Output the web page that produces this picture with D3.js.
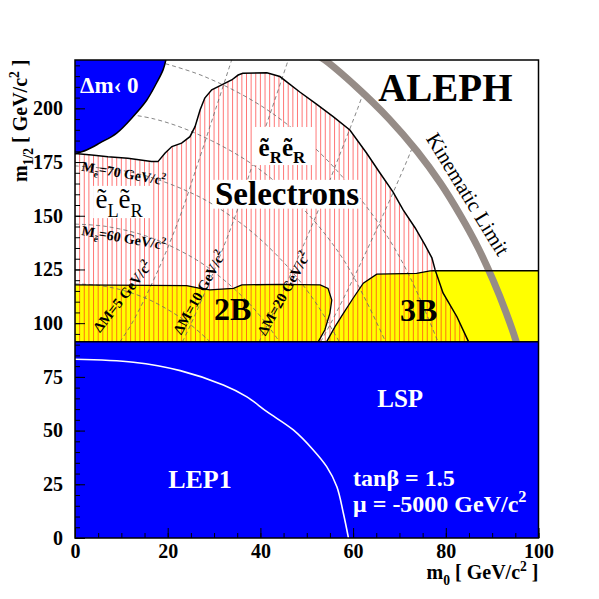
<!DOCTYPE html>
<html>
<head>
<meta charset="utf-8">
<script src="https://cdn.jsdelivr.net/npm/d3@7"></script>
<style>
body { margin: 0; background: #fff; }
text { font-family: "Liberation Serif", "Times New Roman", serif; }
</style>
</head>
<body>
<svg id="chart" width="599" height="599"></svg>
<script>
// axis ticks
var m0Ticks = [0, 20, 40, 60, 80, 100];
var m12Ticks = [0, 25, 50, 75, 100, 125, 150, 175, 200];

// excluded / region boundaries [m0, m1/2]
var lspTop = 91.4;
var dmNegBoundary = [[19.6,222.5],[19.0,217.9],[17.6,211.8],[15.5,203.9],[12.5,196.1],[9.0,188.5],[5.4,183.9],[2.5,180.6],[0,178.8]];
var selectronBoundary = [[0,179.0],[3.6,178.3],[7.1,177.5],[11.4,176.8],[16.5,175.2],[17.9,175.2],[19.4,179.1],[20.9,182.2],[23.0,183.8],[24.8,186.8],[25.9,191.5],[27.0,199.3],[28.0,204.8],[29.5,208.6],[30.9,210.1],[32.4,211.7],[33.8,213.2],[35.2,215.5],[36.2,216.3],[41.4,216.6],[44.2,214.8],[48.5,207.6],[52.1,202.0],[55.7,196.1],[59.3,189.9],[62.9,179.2],[65.8,169.9],[68.6,161.1],[70.8,152.7],[73.4,144.3],[75.5,136.4],[77.0,130.4],[77.7,124.8],[79.4,114.1],[82.4,103.0],[84.9,91.4]];
var region2B = [[0,91.4],[0,117.8],[24.1,117.5],[27.0,116.2],[29.1,115.5],[34.2,116.2],[36.0,117.8],[44.9,118.1],[52.9,117.8],[54.6,116.2],[55.4,110.8],[55.0,104.7],[53.9,96.8],[52.5,91.4]];
var region3B = [[54.3,91.4],[56.1,98.4],[57.9,104.6],[60.0,111.6],[62.2,118.6],[65.1,122.8],[73.7,123.2],[76.6,124.3],[77.3,124.4],[100,124.4],[100,91.4]];
var lep1Line = [[0,83.2],[12.6,81.8],[22.7,77.9],[32.0,71.2],[37.0,65.8],[41.4,58.8],[47.1,50.3],[51.4,41.0],[54.3,33.2],[56.5,23.9],[57.9,11.5],[59.0,0]];
var kinematicLimit = [[51.3,226],[53.9,222.5],[60.7,210],[67.8,195],[73.8,180],[78.9,165],[83.2,150],[87.0,135],[90.2,120],[93.0,105],[95.1,92],[95.6,88]];

// dashed iso-mass (selectron mass) and mass-difference curves
var massValues = [50, 60, 70, 80, 90];
var massCurves = [
  [[0,118.3],[5.4,117.5],[10.8,115],[16.9,110],[24.5,100],[29.1,91.4]],
  [[0,146.1],[6.8,145],[16.1,140],[25.8,130],[32.2,120],[37.2,110],[41.2,100],[44.1,91.4]],
  [[0,173.2],[12.8,170],[25.7,160],[33.5,150],[39.5,140],[46.4,125],[51.8,110],[57.0,91.4]],
  [[0,200],[17.2,195],[29.4,185],[40.8,170],[50.6,150],[57.8,130],[62.9,110],[67.0,91.4]],
  [[16.6,222.5],[27.7,215],[41.0,200],[52.5,180],[60.8,160],[67.5,140],[72.6,120],[78.3,91.4]]
];
var deltaMValues = [5, 10, 20, 30];
var deltaMCurves = [
  [[9.7,91.4],[12.3,100],[18.0,125],[22.7,150],[26.6,175],[30.4,200],[33.8,222.5]],
  [[23.2,91.4],[25.1,100],[30.1,125],[34.6,150],[38.5,175],[42.5,200],[46.0,222.5]],
  [[39.7,91.4],[41.7,100],[47.0,125],[52.0,150],[56.5,175],[61.0,200],[62.2,207.2]],
  [[53.0,91.4],[55.2,100],[61.0,125],[66.4,150],[71.5,175],[72.9,182.4]]
];

var pLeft = 75, pRight = 538.5, pTop = 60, pBottom = 538;
var svg = d3.select('#chart');

var x = d3.scaleLinear().domain([0, 100]).range([pLeft, pRight]);
var y = d3.scaleLinear().domain([0, 222.5]).range([pBottom, pTop]);

var line = d3.line().x(function(d) { return x(d[0]); }).y(function(d) { return y(d[1]); });
var smooth = d3.line().x(function(d) { return x(d[0]); }).y(function(d) { return y(d[1]); }).curve(d3.curveCatmullRom);

svg.append('clipPath').attr('id', 'plotclip')
  .append('rect').attr('x', pLeft).attr('y', pTop).attr('width', pRight - pLeft).attr('height', pBottom - pTop);

var selPoly = selectronBoundary.concat([[0, lspTop]]);
svg.append('clipPath').attr('id', 'selclip')
  .append('path').attr('d', line(selPoly) + 'Z');

var plot = svg.append('g').attr('clip-path', 'url(#plotclip)');

// yellow regions
plot.selectAll('path.yellow')
  .data([region2B, region3B])
  .enter()
  .append('path')
  .attr('d', function(d) { return line(d) + 'Z'; })
  .attr('fill', '#ffff00');

// red vertical hatching of the selectron region
plot.append('g').attr('clip-path', 'url(#selclip)')
  .selectAll('line')
  .data(d3.range(0, 101))
  .enter()
  .append('line')
  .attr('x1', function(d) { return x(d); })
  .attr('x2', function(d) { return x(d); })
  .attr('y1', pTop)
  .attr('y2', pBottom)
  .attr('stroke', '#ff1a1a')
  .attr('stroke-opacity', 0.6)
  .attr('stroke-width', 1);

// dashed curves
plot.selectAll('path.iso')
  .data(massCurves.concat(deltaMCurves))
  .enter()
  .append('path')
  .attr('d', smooth)
  .attr('fill', 'none')
  .attr('stroke', '#666')
  .attr('stroke-width', 0.8)
  .attr('stroke-dasharray', '4,3');

// kinematic limit
plot.append('path')
  .attr('d', smooth(kinematicLimit))
  .attr('fill', 'none')
  .attr('stroke', '#968c87')
  .attr('stroke-width', 7);

// outlines
plot.selectAll('path.yellowline')
  .data([region2B.slice(1), region3B.slice(0, region3B.length - 1)])
  .enter()
  .append('path')
  .attr('d', line)
  .attr('fill', 'none')
  .attr('stroke', '#000')
  .attr('stroke-width', 1.3);

plot.append('path')
  .attr('d', line(selectronBoundary))
  .attr('fill', 'none')
  .attr('stroke', '#000')
  .attr('stroke-width', 1.5);

// blue regions
plot.append('path')
  .attr('d', smooth(dmNegBoundary) + 'L' + x(0) + ',' + y(222.5) + 'Z')
  .attr('fill', '#0000ff');
plot.append('path')
  .attr('d', smooth(dmNegBoundary))
  .attr('fill', 'none')
  .attr('stroke', '#000')
  .attr('stroke-width', 1.5);

plot.append('rect')
  .attr('x', x(0)).attr('y', y(lspTop))
  .attr('width', x(100) - x(0)).attr('height', y(0) - y(lspTop))
  .attr('fill', '#0000ff');
plot.append('line')
  .attr('x1', x(0)).attr('x2', x(100))
  .attr('y1', y(lspTop)).attr('y2', y(lspTop))
  .attr('stroke', '#000').attr('stroke-width', 1.5);

plot.append('path')
  .attr('d', smooth(lep1Line))
  .attr('fill', 'none')
  .attr('stroke', '#fff')
  .attr('stroke-width', 1.6);

// rich text helper: parts = [[text, null|'sub'|'sup'], ...]
function rich(sel, parts, size) {
  var shift = 0;
  parts.forEach(function(p) {
    var target = p[1] === 'sub' ? size * 0.3 : p[1] === 'sup' ? -size * 0.42 : 0;
    var t = sel.append('tspan').text(p[0]).attr('dy', target - shift);
    if (p[1]) t.attr('font-size', size * 0.68);
    shift = target;
  });
}

function label(px, py, size, weight, fill, angle) {
  var t = svg.append('text')
    .attr('transform', 'translate(' + px + ',' + py + ')' + (angle ? ' rotate(' + angle + ')' : ''))
    .attr('font-size', size)
    .attr('font-weight', weight)
    .attr('fill', fill);
  return t;
}

// white label boxes
var boxes = [[38.2, 191.3, 51.8, 173.6], [29.7, 166.7, 61.5, 153.3], [3.9, 163.9, 16.2, 148.9]];
svg.selectAll('rect.box')
  .data(boxes)
  .enter()
  .append('rect')
  .attr('x', function(d) { return x(d[0]); })
  .attr('y', function(d) { return y(d[1]); })
  .attr('width', function(d) { return x(d[2]) - x(d[0]); })
  .attr('height', function(d) { return y(d[3]) - y(d[1]); })
  .attr('fill', '#fff');

label(x(1.1), y(207.0), 23, 'bold', '#fff').text('Δm‹ 0');
label(x(65.4), y(203.4), 39, 'bold', '#000').text('ALEPH');
rich(label(x(39.6), y(178.0), 25, 'bold', '#000'), [['ẽ', null], ['R', 'sub'], ['ẽ', null], ['R', 'sub']], 25);
label(x(30.2), y(155.0), 33, 'bold', '#000').text('Selectrons');
rich(label(x(4.4), y(153.4), 27, 'normal', '#000'), [['ẽ', null], ['L', 'sub'], ['ẽ', null], ['R', 'sub']], 27);

rich(label(x(1.3), y(171.0), 14, 'bold', '#000', 10), [['M', null], ['ẽ', 'sub'], ['=70 GeV/c', null], ['2', 'sup']], 14);
rich(label(x(1.3), y(141.0), 14, 'bold', '#000', 10), [['M', null], ['ẽ', 'sub'], ['=60 GeV/c', null], ['2', 'sup']], 14);

rich(label(x(5.4), y(95.3), 14.5, 'bold', '#000', -52), [['ΔM=5 GeV/c', null], ['2', 'sup']], 14.5);
rich(label(x(22.9), y(94.3), 14.5, 'bold', '#000', -61), [['ΔM=10 GeV/c', null], ['2', 'sup']], 14.5);
rich(label(x(41.1), y(93.8), 14.5, 'bold', '#000', -61), [['ΔM=20 GeV/c', null], ['2', 'sup']], 14.5);

label(x(30.0), y(101.5), 32, 'bold', '#000').text('2B');
label(x(70.1), y(101.0), 32, 'bold', '#000').text('3B');
label(x(75.6), y(186.0), 21, 'normal', '#000', 58.5).text('Kinematic Limit');

label(x(65.2), y(60.9), 25, 'bold', '#fff').text('LSP');
label(x(20.1), y(23.5), 26, 'bold', '#fff').text('LEP1');
label(x(60.0), y(24.0), 24, 'bold', '#fff').text('tanβ = 1.5');
rich(label(x(60.0), y(12.0), 24, 'bold', '#fff'), [['μ = -5000 GeV/c', null], ['2', 'sup']], 24);

// axes
var yAxis = d3.axisLeft(y).tickValues(m12Ticks).tickSize(-10).tickPadding(12);
var yMinor = d3.axisLeft(y).tickValues(d3.range(0, 223, 5)).tickSize(-5).tickFormat('');
var xAxis = d3.axisBottom(x).tickValues(m0Ticks).tickSize(-10).tickPadding(6);
var xMinor = d3.axisBottom(x).tickValues(d3.range(0, 101, 5)).tickSize(-5).tickFormat('');

function styleAxis(g) {
  g.select('.domain').remove();
  g.selectAll('line').attr('stroke', '#000').attr('stroke-width', 1);
  g.selectAll('text')
    .attr('font-family', '"Liberation Serif", "Times New Roman", serif')
    .attr('font-size', 20)
    .attr('font-weight', 'bold')
    .attr('fill', '#000');
}

svg.append('g').attr('transform', 'translate(' + pLeft + ',0)').call(yMinor).call(styleAxis);
svg.append('g').attr('transform', 'translate(' + pLeft + ',0)').call(yAxis).call(styleAxis);
svg.append('g').attr('transform', 'translate(0,' + pBottom + ')').call(xMinor).call(styleAxis);
svg.append('g').attr('transform', 'translate(0,' + pBottom + ')').call(xAxis).call(styleAxis);

svg.append('rect')
  .attr('x', pLeft).attr('y', pTop)
  .attr('width', pRight - pLeft).attr('height', pBottom - pTop)
  .attr('fill', 'none')
  .attr('stroke', '#000')
  .attr('stroke-width', 1.5);

// axis titles
var xt = svg.append('text')
  .attr('x', pRight).attr('y', 579)
  .attr('text-anchor', 'end')
  .attr('font-size', 20).attr('font-weight', 'bold');
rich(xt, [['m', null], ['0', 'sub'], [' [ GeV/c', null], ['2', 'sup'], [' ]', null]], 20);

var yt = svg.append('text')
  .attr('transform', 'translate(27,182) rotate(-90)')
  .attr('font-size', 20).attr('font-weight', 'bold');
rich(yt, [['m', null], ['1/2', 'sub'], [' [ GeV/c', null], ['2', 'sup'], [' ]', null]], 20);
</script>
</body>
</html>
